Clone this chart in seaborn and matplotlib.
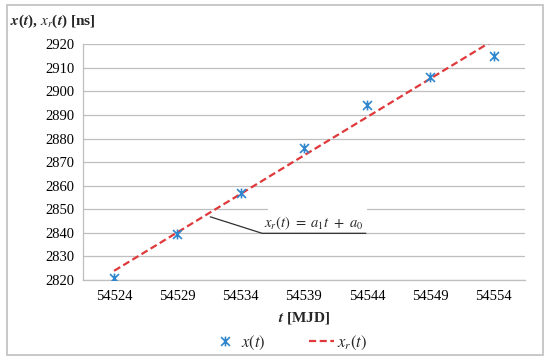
import numpy as np
import pandas as pd
import matplotlib
matplotlib.use("Agg")
import matplotlib.pyplot as plt
from matplotlib.patches import Rectangle
from matplotlib.lines import Line2D
from matplotlib.path import Path
import seaborn as sns

# data
mjd = [54524, 54529, 54534, 54539, 54544, 54549, 54554]
x_meas = [2820.7, 2839.5, 2856.7, 2876.1, 2894.4, 2905.9, 2915.0]
x_fit = [2823.9, 2840.2, 2856.5, 2872.8, 2889.1, 2905.4, 2921.7]
y_ticks = [2820, 2830, 2840, 2850, 2860, 2870, 2880, 2890, 2900, 2910, 2920]

df = pd.DataFrame({"t": mjd, "x": x_meas, "xr": x_fit})

sns.set_theme(style="white")
plt.rcParams["font.family"] = ["Liberation Serif", "DejaVu Serif"]
plt.rcParams["mathtext.fontset"] = "stix"

grid_c = "#bfbfbf"
blue = "#2f86cc"
red = "#e0393b"

# Excel-like star marker: an X with a vertical stroke through it
star = Path([(-1, -1), (1, 1), (-1, 1), (1, -1), (0, -1.1), (0, 1.1)],
            [Path.MOVETO, Path.LINETO, Path.MOVETO, Path.LINETO, Path.MOVETO, Path.LINETO])

fig = plt.figure(figsize=(5.5, 3.62), dpi=100)
ax = fig.add_axes([0.150, 0.2265, 0.805, 0.6515])

# outer frame around the whole figure
fig.patches.append(Rectangle((0.013, 0.019), 0.975, 0.967, transform=fig.transFigure,
                             fill=False, ec=grid_c, lw=1.2))

sns.lineplot(data=df, x="t", y="xr", ax=ax, color=red, lw=1.6, linestyle=(0, (3.2, 1.6)),
             zorder=3)
sns.scatterplot(data=df, x="t", y="x", ax=ax, marker=star, s=50, color=blue,
                edgecolor=blue, linewidth=1.2, zorder=4)

ax.set_xlim(mjd[0] - 2.5, mjd[-1] + 2.5)
ax.set_ylim(2820, 2920)
ax.set_yticks(y_ticks)
ax.set_yticklabels([str(v) for v in y_ticks])
ax.set_xticks(mjd)
ax.set_xticklabels([str(v) for v in mjd])
ax.set_xticks([m - 2.5 for m in mjd] + [mjd[-1] + 2.5], minor=True)
ax.tick_params(axis="x", which="major", length=0, pad=7, labelsize=10.5, colors="black")
ax.tick_params(axis="x", which="minor", length=4, width=0.9, color=grid_c)
ax.tick_params(axis="y", which="major", length=4, width=0.9, color=grid_c, pad=2,
               labelsize=10.5, labelcolor="black")
ax.yaxis.grid(True, color=grid_c, lw=0.9)
ax.set_axisbelow(True)
for s in ["top", "right"]:
    ax.spines[s].set_visible(False)
ax.spines["left"].set_color(grid_c)
ax.spines["bottom"].set_color(grid_c)
ax.spines["left"].set_linewidth(0.9)
ax.spines["bottom"].set_linewidth(0.9)
ax.set_xlabel("")
ax.set_ylabel("")

# axis titles
fig.text(0.018, 0.94, r"$\boldsymbol{x}$($\boldsymbol{t}$), $\boldsymbol{x_r}$($\boldsymbol{t}$) [ns]",
         fontsize=11, fontweight="bold", ha="left", va="center")
fig.text(0.553, 0.122, r"$\boldsymbol{t}$ [MJD]", fontsize=11, fontweight="bold",
         ha="center", va="center")

# equation callout
ax.add_patch(Rectangle((54536.2, 2841.0), 7.8, 10.5, fc="white", ec="none", zorder=2))
ax.plot([54531.6, 54535.7, 54543.9], [2846.8, 2839.8, 2839.8], color="#303030", lw=0.9,
        zorder=3)
ax.text(54539.8, 2844.2, r"$x_r(t)\ =\ a_1 t\ +\ a_0$", fontsize=10.5, ha="center",
        va="center", zorder=3)

# legend
handles = [
    Line2D([], [], marker=star, color=blue, linestyle="none", markersize=7, mew=1.2),
    Line2D([], [], color=red, lw=1.6, linestyle=(0, (3.2, 1.6))),
]
fig.legend(handles, [r"$x(t)$", r"$x_r(t)$"], loc="center", bbox_to_anchor=(0.527, 0.052),
           ncol=2, frameon=False, fontsize=12, handlelength=1.5, columnspacing=2.6,
           handletextpad=0.2)

fig.savefig("out.png", dpi=100)
